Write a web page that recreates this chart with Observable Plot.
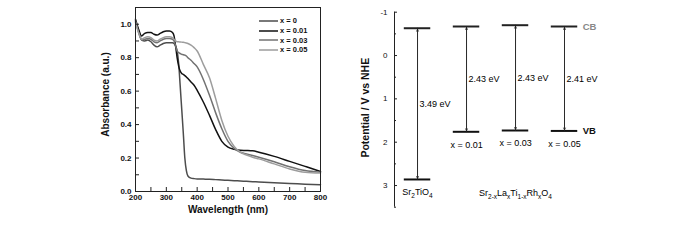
<!DOCTYPE html>
<html>
<head>
<meta charset="utf-8">
<script src="https://cdn.jsdelivr.net/npm/d3@7"></script>
<script src="https://cdn.jsdelivr.net/npm/@observablehq/plot@0.6"></script>
<style>
  body { margin: 0; background: #fff; }
  #wrap { position: relative; width: 700px; height: 240px; display: flex; font-family: "Liberation Sans", Arial, sans-serif; }
  #legend { position: absolute; left: 259px; top: 16px; font-weight: bold; font-size: 7.5px; color: #111; line-height: 9.8px; }
  #legend div { display: flex; align-items: center; height: 9.8px; }
  #legend svg { margin-right: 2px; }
</style>
</head>
<body>
<div id="wrap"><div id="legend"></div></div>
<script>
// ---------- Left panel: UV-vis absorbance ----------
const wavelength = [200,210,220,230,240,250,260,270,280,290,300,310,320,325,330,335,340,345,350,355,360,365,370,380,390,400,420,440,460,480,500,520,540,560,580,600,650,700,750,800];
const seriesNames = ["x = 0", "x = 0.01", "x = 0.03", "x = 0.05"];
const seriesColors = ["#4d4d4d", "#111111", "#727272", "#9d9d9d"];
const absX0 =   [1.02,0.96,0.905,0.90,0.905,0.895,0.875,0.865,0.875,0.885,0.89,0.89,0.89,0.885,0.87,0.84,0.765,0.63,0.49,0.35,0.20,0.125,0.093,0.08,0.077,0.075,0.074,0.073,0.071,0.069,0.067,0.065,0.063,0.061,0.059,0.057,0.052,0.048,0.044,0.04];
const absX001 = [1.03,0.97,0.93,0.945,0.95,0.95,0.94,0.935,0.945,0.955,0.96,0.96,0.95,0.93,0.87,0.80,0.75,0.72,0.705,0.70,0.693,0.685,0.675,0.655,0.635,0.605,0.535,0.455,0.37,0.30,0.265,0.252,0.246,0.245,0.243,0.235,0.21,0.18,0.15,0.12];
const absX003 = [1.02,0.95,0.905,0.91,0.915,0.91,0.895,0.89,0.90,0.91,0.915,0.915,0.91,0.90,0.87,0.84,0.83,0.825,0.82,0.818,0.815,0.81,0.80,0.785,0.765,0.745,0.67,0.575,0.47,0.375,0.30,0.258,0.235,0.225,0.215,0.205,0.178,0.148,0.125,0.115];
const absX005 = [1.01,0.95,0.91,0.92,0.925,0.92,0.905,0.90,0.91,0.92,0.925,0.925,0.92,0.91,0.90,0.895,0.895,0.894,0.893,0.892,0.89,0.888,0.885,0.875,0.86,0.84,0.76,0.68,0.555,0.425,0.33,0.27,0.235,0.218,0.205,0.195,0.165,0.135,0.115,0.11];
const absSeries = [absX0, absX001, absX003, absX005];
const xMajorTicks = [200,300,400,500,600,700,800];
const xAllTicks = [200,250,300,350,400,450,500,550,600,650,700,750,800];
const yMajorTicks = [0,0.2,0.4,0.6,0.8,1.0];
const yAllTicks = [0,0.1,0.2,0.3,0.4,0.5,0.6,0.7,0.8,0.9,1.0,1.1];

const spectra = absSeries.flatMap((vals, s) => vals.map((a, j) => ({series: seriesNames[s], wl: wavelength[j], abs: a})));

const font = "Liberation Sans, Arial, sans-serif";
const left = Plot.plot({
  width: 340, height: 240,
  marginLeft: 135, marginRight: 20, marginTop: 7, marginBottom: 49,
  style: {fontFamily: font, background: "white", color: "#111"},
  x: {domain: [200, 800]},
  y: {domain: [0, 1.1]},
  color: {domain: seriesNames, range: seriesColors},
  marks: [
    Plot.line(spectra, {x: "wl", y: "abs", z: "series", stroke: "series", strokeWidth: 1.5, curve: "monotone-x"}),
    Plot.frame({stroke: "#222", strokeWidth: 1}),
    Plot.tickX(xAllTicks, {x: d => d, insetTop: 180, stroke: "#222"}),
    Plot.tickY(yAllTicks, {y: d => d, insetRight: 181, stroke: "#222"}),
    Plot.axisX({ticks: xMajorTicks, tickSize: 0, tickPadding: 3, fontSize: 8, fontWeight: "bold", label: null}),
    Plot.axisY({ticks: yMajorTicks, tickSize: 0, tickPadding: 4, fontSize: 8, fontWeight: "bold", tickFormat: d3.format(".1f"), label: null}),
    Plot.text(["Wavelength (nm)"], {frameAnchor: "bottom", dy: 21, fontSize: 10, fontWeight: "bold"}),
    Plot.text(["Absorbance (a.u.)"], {frameAnchor: "left", textAnchor: "middle", rotate: -90, dx: -30, dy: -5, fontSize: 10, fontWeight: "bold"})
  ]
});

// ---------- Right panel: band positions ----------
const samples = ["Sr_{2}TiO_{4}", "x = 0.01", "x = 0.03", "x = 0.05"];
const cbLevels = [-0.63, -0.67, -0.70, -0.67];
const vbLevels = [2.86, 1.76, 1.73, 1.74];
const gapsEv = [3.49, 2.43, 2.43, 2.41];
const groupLabel = "Sr_{2-x}La_{x}Ti_{1-x}Rh_{x}O_{4}";
const potentialTicks = [-1, 0, 1, 2, 3];
const potentialMinor = [-0.5, 0.5, 1.5, 2.5, 3.5];
const xRight = [-0.47, 5];

const bands = samples.map((s, i) => ({i, name: s, cb: cbLevels[i], vb: vbLevels[i], gap: gapsEv[i]}));
const half = 0.27;
const last = bands[bands.length - 1];

const right = Plot.plot({
  width: 360, height: 240,
  marginLeft: 54, marginRight: 38, marginTop: 11.7, marginBottom: 33.3,
  style: {fontFamily: font, background: "white", color: "#111"},
  x: {domain: xRight, axis: null},
  y: {domain: [-1, 3.5], reverse: true},
  marks: [
    Plot.ruleX([xRight[0]], {stroke: "#222"}),
    Plot.tickY(potentialTicks, {y: d => d, insetRight: 265, stroke: "#222"}),
    Plot.tickY(potentialMinor, {y: d => d, insetRight: 266, stroke: "#222"}),
    Plot.axisY({ticks: potentialTicks, tickSize: 0, tickPadding: 7, fontSize: 8, tickFormat: d => String(d), label: null}),
    Plot.text(["Potential / V vs NHE"], {frameAnchor: "left", textAnchor: "middle", rotate: -90, dx: -29, dy: -2, fontSize: 10.5, fontWeight: "bold"}),
    Plot.ruleY(bands, {y: "cb", x1: d => d.i - half, x2: d => d.i + half, stroke: "#222", strokeWidth: 2}),
    Plot.ruleY(bands, {y: "vb", x1: d => d.i - half, x2: d => d.i + half, stroke: "#111", strokeWidth: 2}),
    Plot.arrow(bands, {x1: "i", x2: "i", y1: "cb", y2: "vb", stroke: "#222", strokeWidth: 0.8, headLength: 4, headAngle: 50, insetEnd: 1}),
    Plot.arrow(bands, {x1: "i", x2: "i", y1: "vb", y2: "cb", stroke: "#222", strokeWidth: 0.8, headLength: 4, headAngle: 50, insetEnd: 1}),
    Plot.text(bands, {x: "i", y: d => (d.cb + d.vb) / 2, text: d => d.gap.toFixed(2) + " eV", textAnchor: "start", dx: 2, fontSize: 9, fill: "#000"}),
    Plot.text(bands, {x: "i", y: "vb", text: "name", dy: 13, fontSize: 9, fill: "#000"}),
    Plot.text([groupLabel], {x: 2, y: bands[0].vb, text: d => d, dy: 14, fontSize: 9, fill: "#000"}),
    Plot.text(["CB"], {x: last.i + half, y: last.cb, text: d => d, textAnchor: "start", dx: 5, fontSize: 9.5, fontWeight: "bold", fill: "#888"}),
    Plot.text(["VB"], {x: last.i + half, y: last.vb, text: d => d, textAnchor: "start", dx: 5, fontSize: 9.5, fontWeight: "bold", fill: "#111"})
  ]
});

// subscript markup -> tspans
function applySubscripts(svg) {
  d3.select(svg).selectAll("text").each(function () {
    const t = this.textContent;
    if (!t.includes("_{")) return;
    const parts = t.split(/(_\{[^}]*\})/).filter(p => p.length);
    const sel = d3.select(this);
    this.textContent = "";
    let down = false;
    for (const p of parts) {
      const sub = p.startsWith("_{");
      const span = sel.append("tspan").text(sub ? p.slice(2, -1) : p);
      if (sub) {
        span.attr("font-size", 6.5);
        if (!down) { span.attr("dy", 2.5); down = true; }
      } else if (down) {
        span.attr("dy", -2.5); down = false;
      }
    }
  });
}
applySubscripts(right);

const wrap = document.getElementById("wrap");
wrap.insertBefore(right, wrap.firstChild);
wrap.insertBefore(left, right);

// legend overlay
const legend = document.getElementById("legend");
seriesNames.forEach((name, i) => {
  const row = document.createElement("div");
  row.innerHTML = `<svg width="19" height="4"><line x1="0" x2="19" y1="2" y2="2" stroke="${seriesColors[i]}" stroke-width="1.5"/></svg><span>${name}</span>`;
  legend.appendChild(row);
});
</script>
</body>
</html>
